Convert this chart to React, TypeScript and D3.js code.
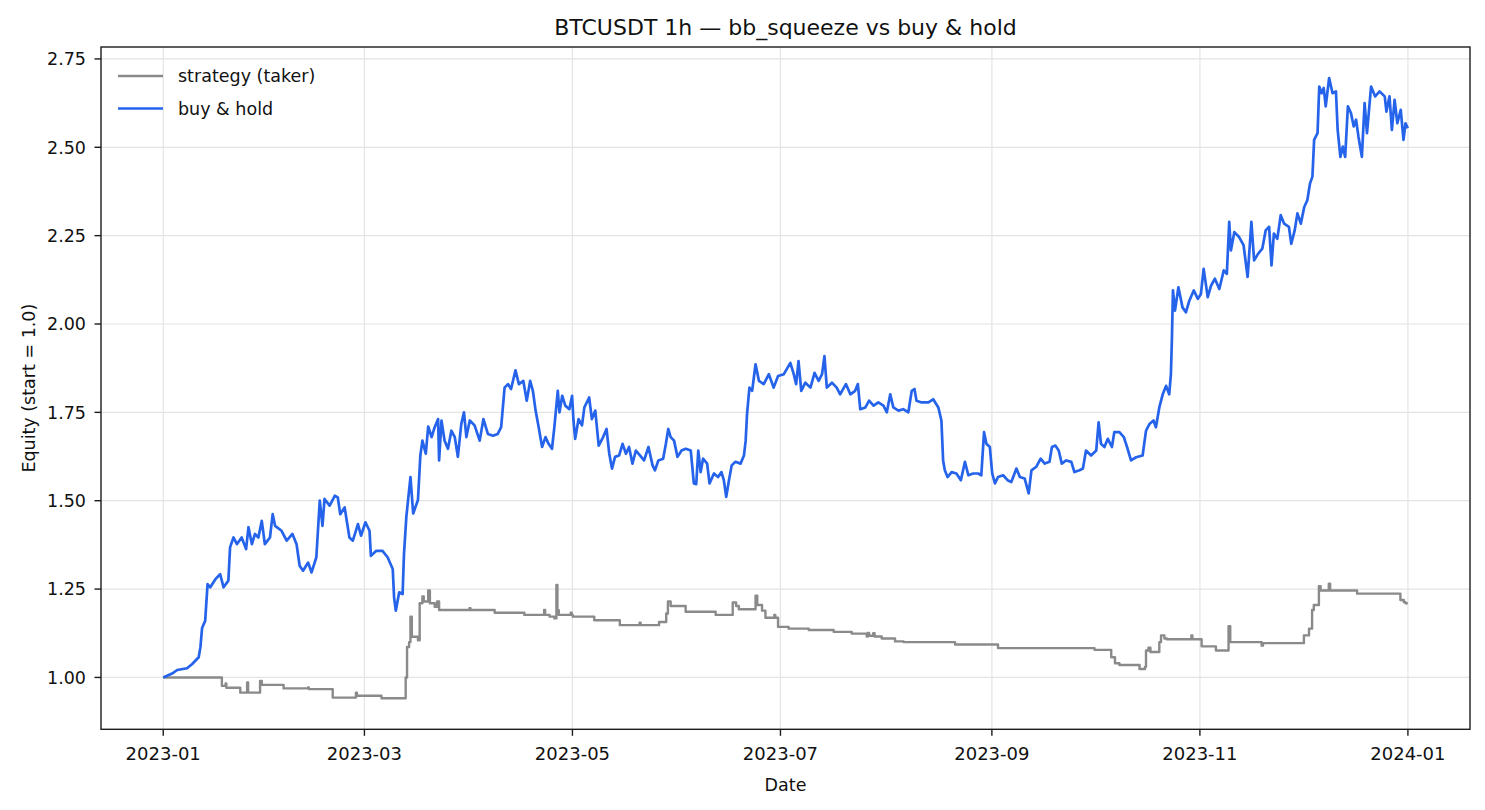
import React, { useEffect, useRef } from 'react';
import * as d3 from 'd3';

const WIDTH = 1485;
const HEIGHT = 810;

const chartTitle = 'BTCUSDT 1h — bb_squeeze vs buy & hold';
const xLabel = 'Date';
const yLabel = 'Equity (start = 1.0)';

const startDate = '2023-01-01T00:00:00Z';
const lastOffset = 364.96; // last hourly bar (2023-12-31 23:00), in days

const xTickDates = ['2023-01-01', '2023-03-01', '2023-05-01', '2023-07-01', '2023-09-01', '2023-11-01', '2024-01-01'];
const xTickLabels = ['2023-01', '2023-03', '2023-05', '2023-07', '2023-09', '2023-11', '2024-01'];
const yTicks = [1.0, 1.25, 1.5, 1.75, 2.0, 2.25, 2.5, 2.75];
const yTickLabels = ['1.00', '1.25', '1.50', '1.75', '2.00', '2.25', '2.50', '2.75'];

const seriesNames = ['strategy (taker)', 'buy & hold'];
const seriesColors = ['#8a8a8a', '#2563eb'];

// buy & hold equity (days since start -> equity)
const holdDays = [
  0, 2.6, 4.1, 7.0, 8.5, 10.4, 10.9, 11.4, 12.3, 13.0,
  13.8, 15.3, 16.7, 17.7, 19.1, 19.6, 20.6, 21.6, 23.0, 24.3,
  25.0, 26.0, 26.9, 27.9, 28.9, 29.8, 31.3, 32.1, 32.8, 34.7,
  36.2, 37.9, 39.1, 40.0, 41.0, 42.5, 43.5, 44.9, 45.9, 46.7,
  47.3, 48.8, 50.3, 51.2, 51.9, 53.2, 54.6, 55.6, 57.1, 58.0,
  59.3, 60.5, 60.9, 62.4, 64.3, 65.8, 67.3, 67.7, 68.2, 69.2,
  70.2, 70.6, 71.3, 72.5, 73.3, 74.7, 75.4, 76.0, 77.0, 77.7,
  78.7, 79.6, 80.6, 80.9, 81.6, 82.5, 83.5, 84.5, 85.5, 86.4,
  87.4, 88.2, 88.9, 89.9, 91.3, 92.8, 93.9, 95.2, 96.7, 98.1,
  99.1, 100.1, 101.1, 102.0, 103.3, 104.3, 105.6, 106.6, 107.6, 108.4,
  109.2, 110.1, 111.1, 112.1, 113.0, 114.0, 114.7, 115.7, 116.2, 117.0,
  117.9, 119.1, 119.9, 120.3, 120.8, 121.8, 122.8, 123.5, 124.9, 125.7,
  126.7, 127.7, 129.0, 130.0, 130.8, 131.6, 132.5, 133.7, 134.7, 135.7,
  136.6, 137.6, 138.6, 139.8, 141.0, 142.3, 143.5, 144.2, 145.2, 146.6,
  147.4, 148.1, 148.8, 149.8, 150.8, 152.0, 153.2, 154.7, 155.6, 156.3,
  156.9, 157.6, 158.3, 159.5, 160.2, 161.5, 162.7, 163.7, 164.4, 165.1,
  165.9, 166.7, 167.8, 169.3, 170.3, 170.8, 171.2, 171.9, 172.7, 173.7,
  174.7, 176.1, 177.6, 179.0, 180.3, 182.0, 183.9, 184.9, 185.6, 186.3,
  187.1, 188.3, 189.8, 191.0, 192.2, 193.2, 193.9, 194.6, 196.1, 197.5,
  198.5, 200.2, 201.5, 202.9, 203.7, 204.4, 205.9, 207.0, 208.3, 209.7,
  211.2, 212.2, 213.2, 214.1, 215.6, 217.0, 218.5, 219.5, 220.3, 220.9,
  222.4, 224.4, 225.8, 227.3, 228.2, 228.7, 229.2, 230.0, 231.2, 232.6,
  233.9, 235.1, 236.1, 237.5, 239.0, 239.9, 240.7, 241.4, 242.4, 243.1,
  243.9, 244.8, 246.3, 247.6, 248.7, 250.2, 251.2, 252.6, 253.8, 254.6,
  256.0, 257.3, 258.5, 259.9, 260.6, 261.6, 262.6, 263.5, 264.8, 266.3,
  267.2, 268.7, 269.7, 270.6, 272.1, 273.6, 274.3, 275.0, 276.0, 277.0,
  278.2, 278.9, 280.4, 281.7, 282.8, 283.8, 285.3, 287.2, 288.2, 289.2,
  290.4, 291.1, 292.1, 293.1, 294.1, 295.0, 295.5, 295.8, 296.1, 296.7,
  297.7, 298.9, 299.9, 300.9, 302.2, 303.4, 304.3, 305.1, 306.3, 307.3,
  308.4, 309.7, 311.0, 311.9, 312.6, 313.1, 314.1, 315.5, 316.8, 318.0,
  319.1, 319.9, 321.1, 322.3, 323.3, 324.3, 325.0, 325.7, 326.7, 327.7,
  328.7, 330.1, 330.8, 331.8, 332.6, 333.6, 334.6, 335.5, 336.3, 337.0,
  337.5, 338.5, 339.0, 339.7, 340.3, 340.9, 341.9, 342.9, 343.9, 344.4,
  345.2, 345.9, 346.6, 347.4, 348.3, 349.1, 349.8, 350.5, 351.5, 352.3,
  353.0, 354.2, 355.4, 356.7, 358.2, 358.7, 359.6, 360.3, 361.1, 361.9,
  362.9, 363.7, 364.3, 364.96,
];
const holdEquity = [
  1.000, 1.011, 1.021, 1.026, 1.038, 1.057, 1.085, 1.140, 1.160, 1.264,
  1.255, 1.278, 1.292, 1.255, 1.274, 1.368, 1.396, 1.377, 1.396, 1.363,
  1.425, 1.377, 1.406, 1.396, 1.443, 1.377, 1.396, 1.462, 1.429, 1.415,
  1.387, 1.406, 1.377, 1.316, 1.302, 1.325, 1.297, 1.340, 1.500, 1.429,
  1.505, 1.486, 1.514, 1.509, 1.462, 1.481, 1.396, 1.387, 1.434, 1.401,
  1.439, 1.415, 1.344, 1.358, 1.358, 1.340, 1.307, 1.226, 1.189, 1.241,
  1.236, 1.349, 1.455, 1.567, 1.464, 1.502, 1.628, 1.670, 1.633, 1.710,
  1.680, 1.708, 1.731, 1.614, 1.727, 1.670, 1.647, 1.698, 1.680, 1.624,
  1.717, 1.750, 1.680, 1.727, 1.713, 1.670, 1.731, 1.689, 1.684, 1.689,
  1.708, 1.820, 1.830, 1.816, 1.869, 1.830, 1.839, 1.783, 1.839, 1.811,
  1.755, 1.708, 1.652, 1.680, 1.661, 1.647, 1.708, 1.811, 1.750, 1.797,
  1.769, 1.759, 1.797, 1.727, 1.675, 1.731, 1.713, 1.764, 1.792, 1.731,
  1.755, 1.656, 1.680, 1.703, 1.633, 1.591, 1.624, 1.628, 1.661, 1.633,
  1.652, 1.605, 1.642, 1.628, 1.614, 1.652, 1.600, 1.586, 1.614, 1.619,
  1.661, 1.703, 1.680, 1.670, 1.624, 1.642, 1.647, 1.642, 1.549, 1.547,
  1.642, 1.581, 1.619, 1.605, 1.549, 1.577, 1.567, 1.581, 1.558, 1.511,
  1.558, 1.600, 1.610, 1.605, 1.628, 1.670, 1.745, 1.820, 1.811, 1.886,
  1.839, 1.830, 1.858, 1.820, 1.853, 1.858, 1.890, 1.858, 1.830, 1.895,
  1.811, 1.834, 1.820, 1.862, 1.839, 1.858, 1.909, 1.820, 1.834, 1.820,
  1.801, 1.830, 1.801, 1.811, 1.830, 1.759, 1.764, 1.783, 1.769, 1.778,
  1.769, 1.750, 1.801, 1.764, 1.755, 1.759, 1.750, 1.811, 1.816, 1.783,
  1.778, 1.778, 1.787, 1.764, 1.727, 1.614, 1.586, 1.567, 1.581, 1.577,
  1.558, 1.610, 1.572, 1.577, 1.577, 1.572, 1.694, 1.661, 1.652, 1.577,
  1.549, 1.567, 1.572, 1.558, 1.553, 1.591, 1.567, 1.563, 1.521, 1.586,
  1.596, 1.619, 1.605, 1.610, 1.652, 1.656, 1.642, 1.605, 1.614, 1.610,
  1.581, 1.586, 1.591, 1.642, 1.628, 1.642, 1.722, 1.661, 1.652, 1.675,
  1.652, 1.694, 1.694, 1.680, 1.647, 1.614, 1.623, 1.628, 1.698, 1.717,
  1.727, 1.708, 1.764, 1.801, 1.825, 1.801, 1.858, 1.960, 2.095, 2.038,
  2.104, 2.047, 2.033, 2.066, 2.095, 2.071, 2.085, 2.156, 2.076, 2.109,
  2.128, 2.099, 2.152, 2.142, 2.289, 2.208, 2.260, 2.246, 2.223, 2.133,
  2.289, 2.180, 2.199, 2.213, 2.265, 2.275, 2.166, 2.256, 2.241, 2.308,
  2.284, 2.275, 2.227, 2.265, 2.313, 2.284, 2.331, 2.350, 2.398, 2.417,
  2.521, 2.540, 2.672, 2.653, 2.668, 2.616, 2.696, 2.653, 2.658, 2.549,
  2.473, 2.502, 2.473, 2.616, 2.597, 2.559, 2.578, 2.530, 2.473, 2.625,
  2.540, 2.672, 2.644, 2.658, 2.644, 2.601, 2.644, 2.549, 2.634, 2.568,
  2.606, 2.521, 2.568, 2.554,
];

// strategy equity: each value holds from its day until the next one
const strategyDays = [
  0, 17.2, 18.3, 18.5, 22.6, 24.6, 24.9, 28.4, 28.9, 35.3,
  42.5, 42.7, 49.7, 56.5, 56.8, 64.0, 71.1, 71.5, 72.1, 72.5,
  72.9, 74.7, 75.2, 76.0, 76.4, 77.7, 78.2, 79.6, 80.3, 80.9,
  89.8, 90.1, 97.2, 105.9, 111.7, 112.0, 113.3, 114.7, 115.3, 115.6,
  116.0, 119.5, 119.8, 120.1, 126.4, 133.9, 139.7, 140.0, 145.4, 147.5,
  148.0, 148.8, 153.2, 162.0, 167.0, 168.0, 168.8, 173.7, 174.2, 175.6,
  176.6, 179.2, 179.5, 180.3, 183.4, 189.3, 196.6, 201.9, 206.3, 206.6,
  207.0, 208.2, 208.6, 210.7, 214.6, 217.1, 232.2, 244.8, 273.1, 278.0,
  279.1, 280.4, 286.3, 287.9, 288.2, 288.9, 289.5, 292.1, 292.6, 293.6,
  294.3, 301.5, 301.8, 304.5, 308.7, 312.4, 312.9, 322.1, 322.5, 334.5,
  336.0, 336.9, 337.4, 338.9, 339.4, 341.8, 342.2, 350.1, 362.8, 363.8,
  364.3, 364.96,
];
const strategyEquity = [
  1.000, 0.976, 0.983, 0.971, 0.957, 0.986, 0.957, 0.990, 0.979, 0.969,
  0.972, 0.967, 0.943, 0.957, 0.948, 0.941, 1.000, 1.086, 1.100, 1.172,
  1.115, 1.105, 1.210, 1.229, 1.215, 1.246, 1.210, 1.200, 1.215, 1.191,
  1.196, 1.191, 1.183, 1.177, 1.191, 1.177, 1.172, 1.167, 1.262, 1.190,
  1.177, 1.183, 1.177, 1.172, 1.162, 1.148, 1.155, 1.148, 1.157, 1.181,
  1.215, 1.202, 1.186, 1.177, 1.212, 1.202, 1.193, 1.231, 1.205, 1.189,
  1.169, 1.177, 1.169, 1.143, 1.138, 1.134, 1.129, 1.124, 1.116, 1.126,
  1.118, 1.125, 1.116, 1.110, 1.102, 1.100, 1.093, 1.083, 1.078, 1.057,
  1.040, 1.035, 1.024, 1.030, 1.076, 1.084, 1.072, 1.100, 1.119, 1.110,
  1.108, 1.119, 1.108, 1.088, 1.076, 1.145, 1.100, 1.090, 1.097, 1.119,
  1.138, 1.191, 1.205, 1.258, 1.246, 1.265, 1.246, 1.237, 1.219, 1.213,
  1.210, 1.210,
];

const FONT = '"DejaVu Sans", Verdana, sans-serif';

const App: React.FC = () => {
  const svgRef = useRef<SVGSVGElement>(null);

  useEffect(() => {
    if (!svgRef.current) return;
    const svg = d3.select(svgRef.current);
    svg.selectAll('*').remove();

    const margin = { top: 47, right: 15, bottom: 80.7, left: 101 };
    const x0 = margin.left;
    const x1 = WIDTH - margin.right;
    const y0 = margin.top;
    const y1 = HEIGHT - margin.bottom;

    const t0 = new Date(startDate).getTime();
    const toDate = (d: number) => new Date(t0 + d * 86400000);

    const hold = holdDays.map((d, i) => ({ date: toDate(d), value: holdEquity[i] }));
    const strategy = strategyDays.map((d, i) => ({ date: toDate(d), value: strategyEquity[i] }));

    // matplotlib-style 5% margins
    const padX = lastOffset * 0.05;
    const xScale = d3
      .scaleUtc()
      .domain([toDate(-padX), toDate(lastOffset + padX)])
      .range([x0, x1]);

    const allValues = holdEquity.concat(strategyEquity);
    const [vMin, vMax] = d3.extent(allValues) as [number, number];
    const padY = (vMax - vMin) * 0.05;
    const yScale = d3
      .scaleLinear()
      .domain([vMin - padY, vMax + padY])
      .range([y1, y0]);

    svg.append('rect').attr('width', WIDTH).attr('height', HEIGHT).attr('fill', '#ffffff');

    // Grid
    const grid = svg.append('g').attr('stroke', '#e4e4e4').attr('stroke-width', 1.2);
    xTickDates.forEach(d => {
      const xp = xScale(new Date(d + 'T00:00:00Z'));
      grid.append('line').attr('x1', xp).attr('x2', xp).attr('y1', y0).attr('y2', y1);
    });
    yTicks.forEach(v => {
      const yp = yScale(v);
      grid.append('line').attr('x1', x0).attr('x2', x1).attr('y1', yp).attr('y2', yp);
    });

    // Lines
    const stepLine = d3
      .line<{ date: Date; value: number }>()
      .x(d => xScale(d.date))
      .y(d => yScale(d.value))
      .curve(d3.curveStepAfter);
    const plainLine = d3
      .line<{ date: Date; value: number }>()
      .x(d => xScale(d.date))
      .y(d => yScale(d.value));

    svg
      .append('path')
      .datum(strategy)
      .attr('d', stepLine)
      .attr('fill', 'none')
      .attr('stroke', seriesColors[0])
      .attr('stroke-width', 2.4)
      .attr('stroke-linejoin', 'round');

    svg
      .append('path')
      .datum(hold)
      .attr('d', plainLine)
      .attr('fill', 'none')
      .attr('stroke', seriesColors[1])
      .attr('stroke-width', 2.7)
      .attr('stroke-linejoin', 'round');

    // Frame
    svg
      .append('rect')
      .attr('x', x0)
      .attr('y', y0)
      .attr('width', x1 - x0)
      .attr('height', y1 - y0)
      .attr('fill', 'none')
      .attr('stroke', '#1c1c1c')
      .attr('stroke-width', 1.4);

    // X axis ticks
    const xAxis = svg.append('g');
    xTickDates.forEach((d, i) => {
      const xp = xScale(new Date(d + 'T00:00:00Z'));
      xAxis.append('line').attr('x1', xp).attr('x2', xp).attr('y1', y1).attr('y2', y1 + 6.5)
        .attr('stroke', '#1c1c1c').attr('stroke-width', 1.4);
      xAxis.append('text')
        .attr('x', xp)
        .attr('y', y1 + 31)
        .attr('text-anchor', 'middle')
        .style('font-family', FONT)
        .style('font-size', '18px')
        .attr('fill', '#111')
        .text(xTickLabels[i]);
    });

    // Y axis ticks
    const yAxis = svg.append('g');
    yTicks.forEach((v, i) => {
      const yp = yScale(v);
      yAxis.append('line').attr('x1', x0 - 6.5).attr('x2', x0).attr('y1', yp).attr('y2', yp)
        .attr('stroke', '#1c1c1c').attr('stroke-width', 1.4);
      yAxis.append('text')
        .attr('x', x0 - 15)
        .attr('y', yp)
        .attr('dy', '0.36em')
        .attr('text-anchor', 'end')
        .style('font-family', FONT)
        .style('font-size', '17.5px')
        .attr('fill', '#111')
        .text(yTickLabels[i]);
    });

    // Axis labels
    svg.append('text')
      .attr('x', (x0 + x1) / 2)
      .attr('y', HEIGHT - 19)
      .attr('text-anchor', 'middle')
      .style('font-family', FONT)
      .style('font-size', '17.5px')
      .attr('fill', '#111')
      .text(xLabel);

    svg.append('text')
      .attr('transform', `translate(29, ${(y0 + y1) / 2}) rotate(-90)`)
      .attr('dy', '0.35em')
      .attr('text-anchor', 'middle')
      .style('font-family', FONT)
      .style('font-size', '17.5px')
      .attr('fill', '#111')
      .text(yLabel);

    // Title
    svg.append('text')
      .attr('x', (x0 + x1) / 2)
      .attr('y', 35)
      .attr('text-anchor', 'middle')
      .style('font-family', FONT)
      .style('font-size', '22px')
      .attr('fill', '#111')
      .text(chartTitle);

    // Legend (no frame)
    const legend = svg.append('g').attr('transform', `translate(${x0 + 17}, ${y0 + 29})`);
    seriesNames.forEach((name, i) => {
      const item = legend.append('g').attr('transform', `translate(0, ${i * 32.5})`);
      item.append('line')
        .attr('x1', 0).attr('x2', 45).attr('y1', 0).attr('y2', 0)
        .attr('stroke', seriesColors[i])
        .attr('stroke-width', 2.6);
      item.append('text')
        .attr('x', 60)
        .attr('y', 0)
        .attr('dy', '0.35em')
        .style('font-family', FONT)
        .style('font-size', '17.5px')
        .attr('fill', '#111')
        .text(name);
    });
  }, []);

  return (
    <div style={{ position: 'absolute', left: 0, top: 0 }}>
      <svg ref={svgRef} width={WIDTH} height={HEIGHT} style={{ display: 'block' }} />
    </div>
  );
};

export default App;
